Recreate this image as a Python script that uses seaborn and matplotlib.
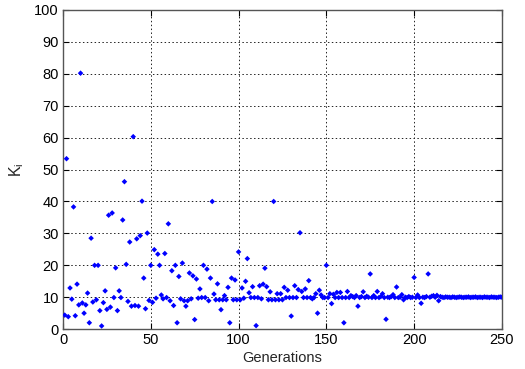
import matplotlib
matplotlib.use("Agg")
import matplotlib.pyplot as plt
import seaborn as sns
import pandas as pd

# Generation index 1..250 and the K_i value read for each generation
k_values = [
    4.4, 53.4, 3.9, 12.9, 9.4, 38.3, 4.2, 14.1, 7.6, 80.2,
    8.2, 5.0, 7.6, 11.3, 2.0, 28.5, 8.5, 20.0, 9.2, 20.0,
    5.8, 1.0, 8.3, 12.0, 6.2, 35.7, 6.9, 36.4, 9.9, 19.2,
    5.8, 12.0, 9.9, 34.2, 46.2, 20.3, 8.7, 27.3, 7.2, 60.3,
    7.4, 28.3, 7.2, 29.3, 40.1, 16.0, 6.4, 30.1, 9.0, 20.0,
    8.4, 24.9, 9.7, 23.5, 20.0, 10.7, 9.5, 23.7, 9.9, 33.0,
    8.9, 18.3, 7.4, 20.0, 2.0, 16.5, 9.5, 20.7, 8.9, 7.2,
    8.9, 17.6, 9.5, 16.7, 3.0, 15.7, 9.7, 12.6, 9.9, 20.0,
    9.9, 18.8, 8.9, 16.0, 40.0, 11.0, 9.2, 14.2, 9.2, 6.1,
    9.2, 10.5, 9.2, 13.1, 2.0, 16.0, 9.2, 15.4, 9.2, 24.2,
    9.2, 12.9, 9.7, 15.0, 22.1, 11.4, 9.9, 13.3, 9.9, 1.1,
    9.9, 13.6, 9.5, 14.1, 19.1, 13.3, 9.2, 11.7, 9.2, 40.0,
    9.2, 11.1, 9.2, 11.1, 9.2, 13.1, 9.9, 12.2, 9.9, 4.1,
    9.9, 13.6, 9.9, 12.4, 30.2, 11.8, 9.9, 12.6, 9.9, 15.2,
    9.9, 9.5, 9.9, 11.1, 5.0, 12.2, 10.7, 9.9, 9.9, 20.0,
    9.9, 11.1, 8.0, 10.9, 9.9, 11.5, 9.9, 11.5, 9.9, 2.0,
    9.9, 11.8, 9.9, 10.5, 10.2, 9.9, 10.5, 7.2, 9.9, 10.2,
    11.7, 9.9, 10.3, 10.0, 17.3, 9.9, 10.5, 9.9, 11.8, 9.9,
    10.2, 11.1, 9.9, 3.1, 10.0, 9.9, 10.2, 10.8, 9.9, 13.2,
    9.9, 10.0, 10.8, 9.2, 10.0, 9.9, 10.2, 9.9, 10.0, 16.2,
    9.9, 10.7, 9.9, 8.1, 10.0, 9.9, 10.2, 17.3, 10.0, 10.3,
    10.5, 10.0, 10.6, 8.9, 10.2, 10.0, 9.9, 10.1, 10.0, 10.0,
    9.9, 10.1, 10.0, 9.9, 10.0, 10.1, 10.0, 9.9, 10.0, 10.0,
    10.1, 9.9, 10.0, 10.0, 10.1, 9.9, 10.0, 10.0, 9.9, 10.1,
    10.0, 10.0, 9.9, 10.1, 10.0, 10.0, 9.9, 10.0, 10.1, 10.0,
]
generations = list(range(1, len(k_values) + 1))
x_ticks = [0, 50, 100, 150, 200, 250]
y_ticks = [0, 10, 20, 30, 40, 50, 60, 70, 80, 90, 100]
x_label = "Generations"
y_label = r"K$_\mathregular{i}$"

df = pd.DataFrame({"gen": generations, "k": k_values})

sns.set_style("white")
plt.rcParams["font.family"] = ["Liberation Sans", "DejaVu Sans"]

fig = plt.figure(figsize=(5.25, 3.69), dpi=100)
ax = fig.add_axes([0.12, 0.108, 0.836, 0.865])

sns.scatterplot(data=df, x="gen", y="k", ax=ax, marker="D", s=8,
                color="#0000ff", edgecolor="none", linewidth=0, zorder=3)

ax.set_xlim(0, 250)
ax.set_ylim(0, 100)
ax.set_xticks(x_ticks)
ax.set_yticks(y_ticks)
ax.grid(True, color="#222222", linestyle=(0, (1.5, 2.5)), linewidth=0.7)
ax.set_axisbelow(True)
for sp in ax.spines.values():
    sp.set_color("#555555")
    sp.set_linewidth(1.0)
ax.tick_params(direction="in", length=4, width=0.8, colors="black",
               labelsize=10.5, top=True, right=True, bottom=True, left=True,
               pad=3)
ax.set_xlabel(x_label, fontsize=10.5, labelpad=3)
ax.set_ylabel(y_label, fontsize=11.5, labelpad=6)

fig.savefig("out.png", dpi=100)
